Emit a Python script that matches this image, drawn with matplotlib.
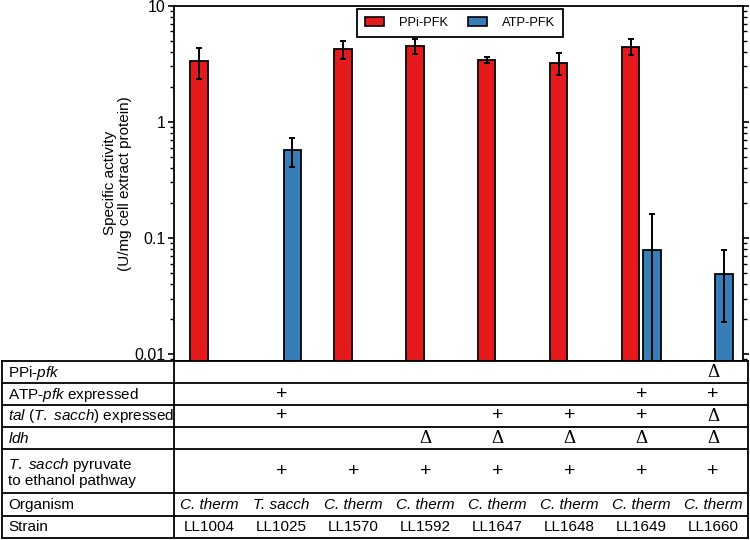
import numpy as np
import matplotlib
matplotlib.use("Agg")
import matplotlib.pyplot as plt
from matplotlib.patches import Patch

plt.rcParams['font.family'] = ['Liberation Sans', 'DejaVu Sans']
plt.rcParams['mathtext.fontset'] = 'custom'
plt.rcParams['mathtext.rm'] = 'Liberation Sans'
plt.rcParams['mathtext.it'] = 'Liberation Sans:italic'

# ---------------- data ----------------
strains = ["LL1004", "LL1025", "LL1570", "LL1592", "LL1647", "LL1648", "LL1649", "LL1660"]
organisms = ["C. therm", "T. sacch", "C. therm", "C. therm", "C. therm", "C. therm", "C. therm", "C. therm"]
ppi_pfk = [3.34, np.nan, 4.21, 4.47, 3.39, 3.23, 4.44, np.nan]
ppi_err = [1.0, np.nan, 0.76, 0.65, 0.2, 0.72, 0.7, np.nan]
atp_pfk = [np.nan, 0.57, np.nan, np.nan, np.nan, np.nan, 0.078, 0.049]
atp_err = [np.nan, 0.16, np.nan, np.nan, np.nan, np.nan, 0.082, 0.03]
series_names = ["PPi-PFK", "ATP-PFK"]
row_labels = ["PPi-$\\mathit{pfk}$",
              "ATP-$\\mathit{pfk}$ expressed",
              "$\\mathit{tal}$ ($\\mathit{T.\\ sacch}$) expressed",
              "$\\mathit{ldh}$",
              "$\\mathit{T.\\ sacch}$ pyruvate\nto ethanol pathway",
              "Organism",
              "Strain"]
row_ppi_pfk = ["", "", "", "", "", "", "", "Δ"]
row_atp_pfk = ["", "+", "", "", "", "", "+", "+"]
row_tal = ["", "+", "", "", "+", "+", "+", "Δ"]
row_ldh = ["", "", "", "Δ", "Δ", "Δ", "Δ", "Δ"]
row_path = ["", "+", "+", "+", "+", "+", "+", "+"]
yticks = [0.01, 0.1, 1, 10]
ytick_labels = ["0.01", "0.1", "1", "10"]

red = "#E41A1C"
blue = "#377EB8"

# ---------------- figure ----------------
W, H = 750, 540
fig = plt.figure(figsize=(7.5, 5.4), dpi=100)

ax_l, ax_r, ax_t, ax_b = 174, 742.7, 5.7, 361
ax = fig.add_axes([ax_l / W, 1 - ax_b / H, (ax_r - ax_l) / W, (ax_b - ax_t) / H])
x = np.arange(len(strains))
xlim = (-0.497, 7.41)
off = 0.149
bw = 0.243

ax.bar(x - off, ppi_pfk, bw, bottom=1e-5, color=red, edgecolor="black", linewidth=1.3, label=series_names[0], zorder=2)
ax.bar(x + off, atp_pfk, bw, bottom=1e-5, color=blue, edgecolor="black", linewidth=1.3, label=series_names[1], zorder=2)
ax.errorbar(x - off, ppi_pfk, yerr=ppi_err, fmt="none", ecolor="black", elinewidth=1.4, capsize=2.4, capthick=1.4, zorder=3)
ax.errorbar(x + off, atp_pfk, yerr=atp_err, fmt="none", ecolor="black", elinewidth=1.4, capsize=2.4, capthick=1.4, zorder=3)

ax.set_yscale("log")
ax.set_ylim(0.0087, 10)
ax.set_xlim(*xlim)
ax.set_xticks([])
ax.set_yticks(yticks)
ax.set_yticklabels(ytick_labels, fontsize=11.5)
ax.tick_params(axis="y", which="major", direction="out", length=4, width=1.2, pad=2, right=True)
ax.tick_params(axis="y", which="minor", direction="out", length=3, width=1.0, right=True)
for s in ax.spines.values():
    s.set_linewidth(1.3)
ax.set_ylabel("Specific activity\n(U/mg cell extract protein)", fontsize=11, linespacing=1.1)
ax.yaxis.set_label_coords(-0.073, 0.5)

handles = [Patch(facecolor=red, edgecolor="black", linewidth=1.2),
           Patch(facecolor=blue, edgecolor="black", linewidth=1.2)]
leg = ax.legend(handles, series_names, loc="upper center", bbox_to_anchor=(0.503, 0.9907), ncol=2,
                fontsize=9.3, frameon=True, fancybox=False, edgecolor="black", framealpha=1,
                handlelength=1.5, handleheight=0.65, columnspacing=1.5, handletextpad=1.15,
                borderpad=0.6, borderaxespad=0.0)
leg.get_frame().set_linewidth(1.3)

# ---------------- table ----------------
tb_l, tb_r, tb_t, tb_b = 2, 748, 361, 537.7
tab = fig.add_axes([tb_l / W, 1 - tb_b / H, (tb_r - tb_l) / W, (tb_b - tb_t) / H])
ppu = (ax_r - ax_l) / (xlim[1] - xlim[0])
tab.set_xlim(xlim[0] - (ax_l - tb_l) / ppu, xlim[1] + (tb_r - ax_r) / ppu)
tab.set_ylim(tb_b, tb_t)
tab.set_xticks([])
tab.set_yticks([])
for s in tab.spines.values():
    s.set_linewidth(1.3)

bounds = [361, 383.3, 405, 426.7, 449.3, 493.3, 516, 537.7]
for b in bounds[1:-1]:
    tab.axhline(b, color="black", linewidth=1.3)
tab.axvline(xlim[0], color="black", linewidth=1.3)

label_x = xlim[0] - (ax_l - 8) / ppu
rows = [row_ppi_pfk, row_atp_pfk, row_tal, row_ldh, row_path]
for i, lab in enumerate(row_labels):
    yc = (bounds[i] + bounds[i + 1]) / 2
    tab.text(label_x, yc + 0.5, lab, ha="left", va="center", fontsize=11, linespacing=1.05)
    if i < len(rows):
        for j, v in enumerate(rows[i]):
            if v == "Δ":
                tab.text(x[j], yc + 0.5, v, ha="center", va="center", fontsize=13.5,
                         family=["Liberation Serif", "DejaVu Serif"])
            elif v:
                tab.text(x[j], yc, v, ha="center", va="center", fontsize=14)
    elif i == 5:
        for j, v in enumerate(organisms):
            tab.text(x[j], yc + 0.5, v, ha="center", va="center", fontsize=11, style="italic")
    else:
        for j, v in enumerate(strains):
            tab.text(x[j], yc + 0.5, v, ha="center", va="center", fontsize=11)

fig.savefig("out.png", dpi=100)
